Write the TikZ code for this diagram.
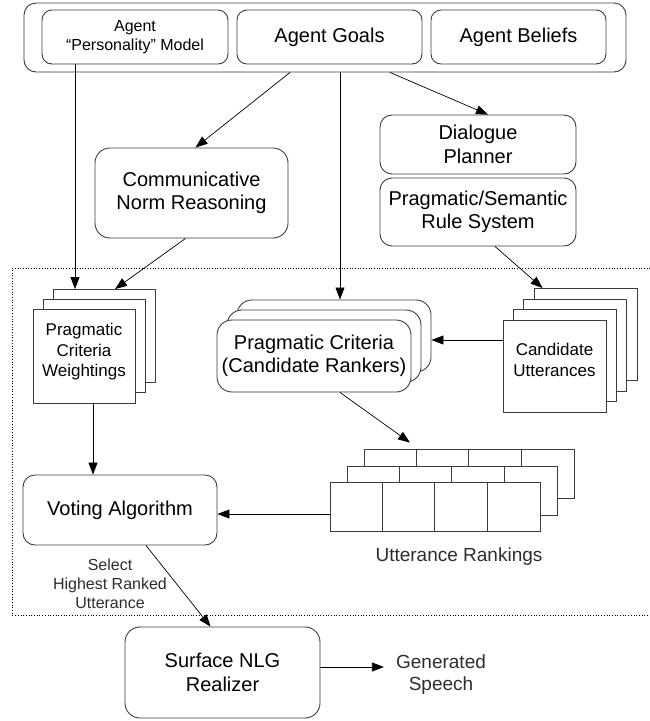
\documentclass[tikz,border=0pt]{standalone}
\usepackage{fontspec}
\setmainfont{Liberation Sans}
\usetikzlibrary{arrows.meta}
\definecolor{boxGray}{RGB}{60,60,60}
\definecolor{noteGray}{RGB}{45,45,45}

\begin{document}
\begin{tikzpicture}[x=1pt,y=-1pt,
	box/.style={draw=boxGray, line width=0.9pt, rounded corners=12pt, fill=white, align=center, inner sep=0pt},
	sheet/.style={draw=boxGray, line width=0.9pt, fill=white, align=center, inner sep=0pt},
	arr/.style={-{Triangle[length=12pt,width=9pt]}, line width=0.7pt},
	big/.style={font=\fontsize{20}{23.5}\selectfont},
	mid/.style={font=\fontsize{17}{20.5}\selectfont},
	small/.style={font=\fontsize{16}{19.5}\selectfont},
	note/.style={text=noteGray, align=center, inner sep=2pt}]
			\useasboundingbox (0,0) rectangle (650,721);

			% agent model at the top
			\draw (325,37.5) node[box, minimum width=602pt, minimum height=69pt] (agent) {};
			\draw (135,37) node[box, rounded corners=10pt, minimum width=186pt, minimum height=54pt, small] (persona) {Agent\\“Personality” Model};
			\draw (329.5,37) node[box, rounded corners=10pt, minimum width=185pt, minimum height=54pt, big] (goals) {Agent Goals};
			\draw (518.5,37) node[box, rounded corners=10pt, minimum width=175pt, minimum height=54pt, big] (beliefs) {Agent Beliefs};

			\draw (478,144.5) node[box, minimum width=196pt, minimum height=59pt, big] (planner) {Dialogue\\Planner};
			\draw (478,212) node[box, minimum width=196pt, minimum height=68pt, big] (rules) {Pragmatic/Semantic\\Rule System};
			\draw (191.5,193) node[box, rounded corners=15pt, minimum width=193pt, minimum height=90pt, big] (norm) {Communicative\\Norm Reasoning};

			% dotted frame
			\draw[dotted, line width=0.7pt] (650,268) -- (12,268) -- (12,615) -- (650,615);

			% weightings stack
			\draw (104,336) node[sheet, minimum width=102pt, minimum height=93pt] (w3) {};
			\draw (94,346) node[sheet, minimum width=102pt, minimum height=93pt] (w2) {};
			\draw (84,356) node[sheet, minimum width=102pt, minimum height=94pt,
				label={[mid, align=center, yshift=4pt]center:Pragmatic\\Criteria\\Weightings}] (w1) {};

			% candidate rankers stack
			\draw (334,336) node[box, rounded corners=15pt, minimum width=194pt, minimum height=72pt] (r3) {};
			\draw (324,346) node[box, rounded corners=15pt, minimum width=194pt, minimum height=72pt] (r2) {};
			\draw (314,356) node[box, rounded corners=15pt, minimum width=194pt, minimum height=72pt, big] (r1) {Pragmatic Criteria\\(Candidate Rankers)};

			% candidate utterances stack
			\draw (585.5,334.5) node[sheet, minimum width=103pt, minimum height=92pt] (c4) {};
			\draw (575,345) node[sheet, minimum width=103pt, minimum height=92pt] (c3) {};
			\draw (564.5,355.5) node[sheet, minimum width=103pt, minimum height=92pt] (c2) {};
			\draw (554.5,366) node[sheet, minimum width=103pt, minimum height=92pt,
				label={[mid, align=center, yshift=6pt]center:Candidate\\Utterances}] (c1) {};

			% utterance rankings
			\foreach \n/\cx/\cy in {3/469/473.5, 2/452/490.5, 1/435/506.5} {
				\draw (\cx,\cy) node[sheet, minimum width=210pt, minimum height=49pt] (ur\n) {};
				\foreach \i in {1,2,3}
					\draw[boxGray, line width=0.9pt] ([xshift=\i*52.5pt]ur\n.north west) -- ([xshift=\i*52.5pt]ur\n.south west);
			}
			\draw (459,557) node[note, font=\fontsize{19}{22}\selectfont] (rankLabel) {Utterance Rankings};

			\draw (120,510) node[box, minimum width=194pt, minimum height=70pt, big] (vote) {Voting Algorithm};
			\draw (110,584) node[note, font=\fontsize{16}{19}\selectfont] (selectLabel) {Select\\Highest Ranked\\Utterance};

			\draw (222.5,672.5) node[box, rounded corners=15pt, minimum width=195pt, minimum height=91pt, big] (surface) {Surface NLG\\Realizer};
			\draw (441,675) node[note, font=\fontsize{19}{22}\selectfont] (speech) {Generated\\Speech};

			\path[arr]
			([xshift=-60pt]persona.south) edge ([xshift=-29pt]w3.north)
			([xshift=-35pt]agent.south) edge ([xshift=4pt]norm.north)
			([xshift=15pt]agent.south) edge ([xshift=6pt]r3.north)
			([xshift=65pt]agent.south) edge ([xshift=10pt]planner.north)
			([xshift=-6pt]norm.south) edge ([xshift=11pt]w3.north)
			([xshift=17pt]rules.south) edge ([xshift=-43pt]c4.north)
			([yshift=26pt]c1.west) edge ([yshift=-4pt]r3.east)
			([xshift=26pt]r1.south) edge ([xshift=-59pt,yshift=6pt]ur3.north)
			([yshift=-7.5pt]ur1.west) edge ([yshift=-4pt]vote.east)
			([xshift=9pt]w1.south) edge ([xshift=-27pt]vote.north)
			([xshift=26pt]vote.south) edge ([xshift=-12pt]surface.north)
			([yshift=5.5pt]surface.east) edge ([xshift=-10pt,yshift=8pt]speech.west)
			;
		\end{tikzpicture}
\end{document}
